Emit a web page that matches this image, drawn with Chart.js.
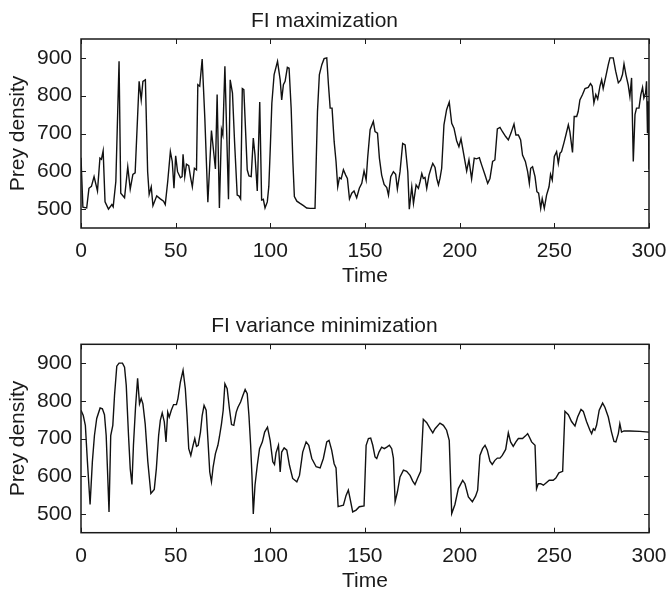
<!DOCTYPE html>
<html lang="en">
<head>
  <meta charset="UTF-8" />
  <title>Prey density</title>
  <script src="https://cdn.jsdelivr.net/npm/chart.js"></script>
  <style>
    body { margin: 0; background: #fff; }
    #wrap { position: relative; width: 666px; height: 592px; }
    canvas { position: absolute; left: 0; }
  </style>
</head>
<body>
<div id="wrap">
  <canvas id="chartMax" width="666" height="296" style="top:0"></canvas>
  <canvas id="chartVar" width="666" height="296" style="top:296px"></canvas>
</div>

<script>
  // FI maximization
  const topTime = [0, 1, 3, 4.2, 5.5, 6.9, 8.7, 10, 10.8, 11.7, 12.7, 14.5, 16.3, 17, 18.4, 20.1, 21, 23, 24.7, 26,
    27.4, 28.6, 30.7, 31.8, 32.7, 34, 35.2, 36, 37.1, 38, 40, 41.9, 43.6, 44.5, 45.8, 47.2, 48.2, 49.1, 50, 51,
    52.5, 53.4, 53.9, 54.8, 55.7, 56.9, 57.8, 58.8, 59.9, 61, 61.7, 62.7, 64, 65.4, 67, 68.9, 71, 71.9, 73.1, 74.2,
    74.9, 76, 77.9, 78.8, 80, 81.1, 82.5, 83.4, 84.3, 85.2, 86, 87.8, 88.7, 89.9, 91, 91.9, 93.1, 94.4, 95.4, 96.3,
    97.2, 98.4, 99.2, 100, 100.8, 102, 103.8, 105.2, 106, 106.9, 107.8, 109, 109.9, 111, 111.9, 112.7, 114, 115.7, 117.5, 119.2,
    121, 123.6, 124.9, 125.9, 127.2, 128.4, 129.8, 130.7, 131.6, 132.6, 133.7, 134.7, 135.6, 136.5, 137.4, 138.6, 139.8, 140.7, 141.8, 143,
    144.2, 145.6, 147, 148.3, 149.5, 150.6, 151.4, 152.7, 154.4, 155.3, 156.6, 157.6, 158.8, 160.1, 161.5, 162.4, 163.6, 165, 166.2, 167.1,
    168.5, 169.9, 171.2, 172.6, 173.4, 174.7, 175.6, 177, 178.2, 179.1, 180, 180.8, 181.7, 182.6, 183.8, 184.9, 185.8, 187, 187.9, 188.8,
    189.6, 190.5, 191.7, 193.1, 194.5, 195.8, 197, 198.4, 199.6, 200.7, 201.9, 203.7, 204.9, 206.3, 207.7, 208.9, 210.4, 211.6, 213.4, 214.8,
    216, 217.4, 218.6, 219.9, 221.3, 222.7, 224.3, 225.7, 227.1, 228.7, 229.7, 231, 232.2, 233.2, 234.7, 235.9, 236.8, 237.5, 238.5, 239.8,
    240.8, 241.7, 242.8, 243.6, 244.7, 245.9, 247.2, 248, 248.9, 250, 251.2, 252.1, 253, 253.8, 255.1, 256.1, 257.4, 258.2, 259.6, 260.5,
    261.8, 262.6, 263.5, 264.9, 266.2, 267.9, 269.1, 270, 270.9, 271.9, 272.9, 274.1, 275, 275.8, 277.2, 278.5, 279.4, 281.1, 282.4, 283.8,
    285, 286, 286.8, 287.8, 289, 289.9, 290.8, 291.7, 292.6, 293.4, 294.7, 295.7, 296.6, 297.3, 298.2, 298.7, 299.2, 299.6, 300];
  const topPrey = [636, 505, 503, 555, 560, 586, 548, 635, 632, 654, 519, 500, 512, 506, 573, 891, 542, 530, 612, 553,
    592, 596, 838, 789, 838, 842, 599, 539, 559, 509, 535, 527, 521, 512, 573, 652, 626, 555, 641, 599,
    583, 586, 645, 586, 619, 615, 586, 559, 608, 604, 829, 825, 897, 741, 518, 708, 606, 803, 503, 710,
    696, 878, 526, 842, 807, 679, 537, 535, 527, 819, 816, 604, 588, 586, 688, 643, 548, 783, 524, 526,
    503, 519, 560, 665, 780, 856, 891, 842, 789, 829, 838, 875, 873, 767, 626, 533, 521, 515, 509, 503,
    502, 502, 758, 856, 882, 898, 900, 829, 767, 767, 679, 626, 559, 583, 580, 604, 590, 581, 527, 542,
    548, 530, 555, 568, 601, 577, 635, 710, 732, 705, 701, 635, 590, 565, 557, 537, 586, 599, 592, 553,
    599, 674, 670, 599, 500, 559, 515, 564, 555, 573, 594, 581, 584, 555, 590, 608, 621, 610, 581, 564,
    581, 608, 723, 763, 783, 727, 714, 681, 665, 686, 652, 601, 630, 580, 635, 633, 636, 617, 590, 568,
    581, 626, 630, 712, 716, 704, 692, 683, 701, 725, 696, 696, 683, 643, 626, 599, 568, 608, 612, 586,
    546, 542, 502, 528, 502, 537, 559, 592, 577, 639, 652, 621, 648, 652, 676, 696, 723, 705, 650, 745,
    745, 758, 789, 803, 819, 822, 832, 825, 781, 803, 791, 825, 842, 819, 851, 882, 900, 900, 865, 834,
    841, 856, 884, 856, 829, 798, 847, 626, 750, 767, 767, 803, 822, 794, 807, 838, 701, 785, 605];

  // FI variance minimization
  const botTime = [0, 1.2, 2.3, 3.4, 4.8, 6, 7.1, 8.3, 10.1, 11.3, 12.4, 13.3, 14.1, 14.8, 15.7, 16.8, 17.7, 18.9, 20.1, 21.9,
    23, 23.9, 25.1, 26, 26.9, 27.7, 28.8, 29.9, 30.9, 31.8, 32.7, 33.9, 35.3, 36.9, 38.7, 39.8, 41, 41.9, 42.9, 44,
    44.9, 45.8, 46.6, 47.7, 48.9, 50.4, 51.2, 52.5, 53.9, 55.1, 56, 56.9, 58, 59.2, 60.1, 61, 61.9, 63.1, 64, 65,
    66.1, 67.1, 68, 68.9, 69.8, 71, 72.3, 73.1, 74.2, 75.1, 76, 77.2, 78.4, 79.5, 80.7, 82, 82.9, 84.3, 85.5, 86.7,
    87.8, 88.7, 89.6, 90.3, 91, 91.9, 93.1, 94.3, 95.8, 97, 98.5, 99.9, 101.3, 102.2, 103, 104.3, 105.2, 106, 107.3, 108.7,
    110.1, 111.8, 114, 115.4, 117.1, 118.9, 120.3, 121.9, 124.2, 126.3, 128, 129.8, 131, 132.4, 133.7, 134.7, 135.8, 137.2, 138.6, 140,
    141.2, 142.1, 143.5, 145.3, 147, 149.5, 150.6, 151.8, 153, 154.1, 155.3, 156.2, 157.4, 158.8, 160.2, 161.5, 162.9, 164.1, 165, 165.9,
    167.1, 168.5, 170.3, 172, 173.8, 175.2, 176.4, 177.7, 179.4, 180.8, 182.6, 184.4, 185.8, 187, 189.6, 191.4, 193.1, 194.5, 195.8, 197.5,
    199.3, 201.6, 202.8, 204.6, 206.7, 208.4, 209.5, 210.7, 212.1, 213.4, 214.6, 216, 217.2, 218.6, 219.9, 221.3, 222.5, 224.3, 225.7, 226.9,
    228.3, 229.7, 231, 233.2, 234.8, 235.9, 236.8, 238, 239.8, 240.6, 241.5, 242.8, 244.2, 245.6, 247.3, 249.4, 250.8, 252.4, 254.4, 255.6,
    257.4, 259.1, 260.9, 262.3, 264.1, 265.3, 267, 268.8, 269.7, 270.6, 271.4, 272.3, 273.7, 275.5, 276.7, 278.5, 280.2, 281.5, 282.5, 283.8,
    284.6, 285.5, 286.8, 289.9, 295.2, 300];
  const botPrey = [775, 761, 735, 638, 525, 638, 708, 753, 781, 779, 763, 708, 602, 505, 708, 735, 814, 892, 900, 900,
    889, 841, 708, 620, 578, 682, 783, 860, 792, 806, 792, 739, 638, 554, 565, 620, 708, 748, 768, 744,
    691, 770, 757, 775, 790, 790, 806, 850, 881, 832, 761, 673, 655, 682, 700, 679, 682, 717, 761, 788,
    775, 691, 611, 585, 625, 660, 682, 704, 739, 775, 845, 832, 779, 737, 735, 770, 783, 797, 814, 830,
    819, 761, 682, 602, 500, 576, 629, 673, 691, 717, 730, 695, 638, 631, 662, 682, 611, 664, 675, 669,
    629, 594, 585, 602, 664, 691, 682, 647, 625, 622, 647, 691, 695, 669, 633, 622, 519, 521, 523, 549,
    563, 541, 505, 510, 519, 521, 682, 700, 701, 682, 651, 647, 664, 677, 673, 677, 682, 673, 648, 532,
    558, 598, 616, 613, 602, 587, 578, 594, 613, 751, 742, 726, 715, 726, 741, 735, 722, 695, 501, 525,
    567, 589, 580, 545, 532, 547, 563, 655, 673, 682, 669, 640, 631, 642, 648, 648, 655, 671, 715, 691,
    679, 691, 700, 700, 707, 713, 704, 691, 682, 567, 580, 580, 576, 582, 589, 589, 595, 609, 613, 772,
    763, 745, 733, 757, 777, 772, 745, 722, 713, 726, 722, 735, 775, 794, 783, 757, 717, 692, 691, 713,
    739, 717, 720, 720, 719, 717];

  const timeTicks = [0, 50, 100, 150, 200, 250, 300];
  const preyTicks = [500, 600, 700, 800, 900];

  Chart.defaults.font.family = '"Liberation Sans", Arial, sans-serif';
  Chart.defaults.font.size = 21;
  Chart.defaults.color = '#1a1a1a';

  // box round the plot with inward ticks on all four sides
  const frameTicks = {
    id: 'frameTicks',
    afterDatasetsDraw(chart) {
      const { ctx, chartArea: a, scales: { x, y } } = chart;
      ctx.save();
      ctx.strokeStyle = '#1a1a1a';
      ctx.lineWidth = 1.5;
      ctx.strokeRect(a.left, a.top, a.right - a.left, a.bottom - a.top);
      ctx.lineWidth = 1;
      ctx.beginPath();
      x.ticks.forEach(t => {
        const px = Math.round(x.getPixelForValue(t.value)) + 0.5;
        ctx.moveTo(px, a.bottom); ctx.lineTo(px, a.bottom - 5);
        ctx.moveTo(px, a.top); ctx.lineTo(px, a.top + 5);
      });
      y.ticks.forEach(t => {
        const py = Math.round(y.getPixelForValue(t.value)) + 0.5;
        ctx.moveTo(a.left, py); ctx.lineTo(a.left + 5, py);
        ctx.moveTo(a.right, py); ctx.lineTo(a.right - 5, py);
      });
      ctx.stroke();
      ctx.restore();
    }
  };

  function makeChart(id, title, times, prey, lay) {
    return new Chart(document.getElementById(id), {
      type: 'line',
      data: {
        datasets: [{
          data: times.map((t, i) => ({ x: t, y: prey[i] })),
          borderColor: '#111',
          borderWidth: 1.4,
          pointRadius: 0,
          tension: 0,
          fill: false
        }]
      },
      options: {
        responsive: false,
        animation: false,
        devicePixelRatio: 1,
        layout: { padding: { left: 0, right: 17, top: 0, bottom: 0 } },
        plugins: {
          legend: { display: false },
          tooltip: { enabled: false },
          title: {
            display: true,
            text: title,
            font: { size: 21, weight: 'normal' },
            color: '#1a1a1a',
            padding: { top: lay.titleTop, bottom: lay.titleBottom }
          }
        },
        scales: {
          x: {
            type: 'linear',
            min: 0,
            max: 300,
            afterBuildTicks: s => { s.ticks = timeTicks.map(v => ({ value: v })); },
            afterFit: s => { s.height = lay.xHeight; s.paddingLeft = 0; s.paddingRight = 0; },
            grid: { display: false, drawTicks: false },
            border: { display: false },
            ticks: { padding: lay.xTickPad, maxRotation: 0 },
            title: { display: true, text: 'Time', font: { lineHeight: 1 }, padding: { top: 0, bottom: lay.xTitlePad } }
          },
          y: {
            min: 450,
            max: 950,
            afterBuildTicks: s => { s.ticks = preyTicks.map(v => ({ value: v })); },
            afterFit: s => { s.width = 81; s.paddingTop = 0; s.paddingBottom = 0; },
            grid: { display: false, drawTicks: false },
            border: { display: false },
            ticks: { padding: 9 },
            title: { display: true, text: 'Prey density', padding: { top: 6, bottom: 0 } }
          }
        }
      },
      plugins: [frameTicks]
    });
  }

  makeChart('chartMax', 'FI maximization', topTime, topPrey,
    { titleTop: 8.4, titleBottom: 5.4, xHeight: 68, xTickPad: 10.4, xTitlePad: 9.5 });
  makeChart('chartVar', 'FI variance minimization', botTime, botPrey,
    { titleTop: 17.4, titleBottom: 5.7, xHeight: 59.3, xTickPad: 11.4, xTitlePad: 0 });
</script>
</body>
</html>
